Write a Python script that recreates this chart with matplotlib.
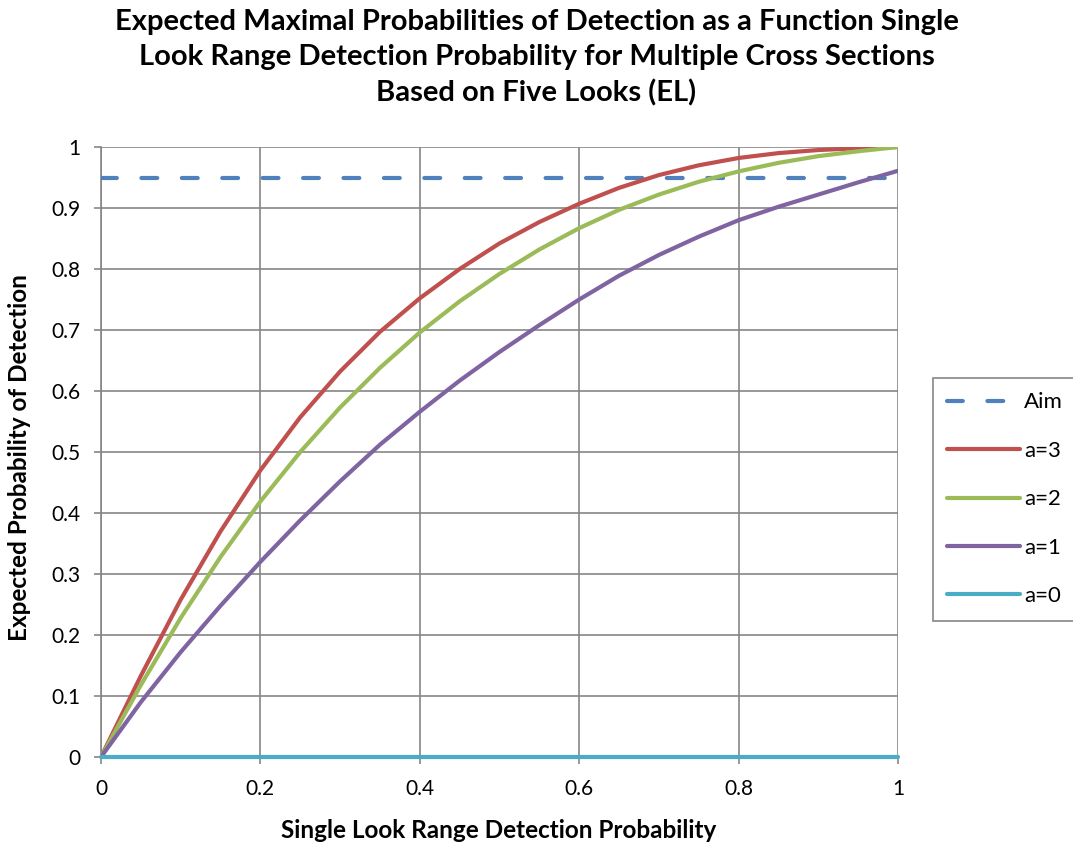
import matplotlib
matplotlib.use("Agg")
import matplotlib.pyplot as plt

# single look range detection probability
p = [0.0, 0.05, 0.1, 0.15, 0.2, 0.25, 0.3, 0.35, 0.4, 0.45, 0.5,
     0.55, 0.6, 0.65, 0.7, 0.75, 0.8, 0.85, 0.9, 0.95, 1.0]

# expected maximal probability of detection
a3 = [0.0, 0.133, 0.258, 0.370, 0.470, 0.557, 0.632, 0.697, 0.752, 0.800, 0.842,
      0.877, 0.907, 0.933, 0.954, 0.970, 0.982, 0.990, 0.995, 0.998, 1.0]
a2 = [0.0, 0.118, 0.228, 0.328, 0.419, 0.500, 0.573, 0.638, 0.696, 0.747, 0.792,
      0.832, 0.867, 0.897, 0.922, 0.943, 0.960, 0.974, 0.985, 0.993, 1.0]
a1 = [0.0, 0.090, 0.172, 0.248, 0.320, 0.388, 0.452, 0.512, 0.566, 0.617, 0.664,
      0.708, 0.750, 0.789, 0.823, 0.853, 0.880, 0.902, 0.922, 0.942, 0.961]
a0 = [0.0] * len(p)
aim = [0.95] * len(p)

ticks_x = [0, 0.2, 0.4, 0.6, 0.8, 1]
ticks_y = [0, 0.1, 0.2, 0.3, 0.4, 0.5, 0.6, 0.7, 0.8, 0.9, 1]

plt.rcParams['font.family'] = ['Lato', 'DejaVu Sans']

fig = plt.figure(figsize=(10.73, 8.48), dpi=100)
ax = fig.add_axes([101/1073, 1-757/848, 797/1073, 610/848])

grid_col = '#868686'
lw = 3

ax.plot(p, aim, color='#4F81BD', lw=lw, dashes=(3.8, 5.9),
        dash_capstyle='round', label='Aim', zorder=3)
ax.plot(p, a3, color='#C0504D', lw=lw, solid_capstyle='round', solid_joinstyle='round',
        label='a=3', zorder=3)
ax.plot(p, a2, color='#9BBB59', lw=lw, solid_capstyle='round', solid_joinstyle='round',
        label='a=2', zorder=3)
ax.plot(p, a1, color='#8064A2', lw=lw, solid_capstyle='round', solid_joinstyle='round',
        label='a=1', zorder=3)
ax.plot(p, a0, color='#4BACC6', lw=lw, solid_capstyle='round', label='a=0', zorder=3,
        clip_on=False)

ax.set_xlim(0, 1)
ax.set_ylim(0, 1)
ax.set_xticks(ticks_x)
ax.set_xticklabels([str(t) for t in ticks_x])
ax.set_yticks(ticks_y)
ax.set_yticklabels([str(t) for t in ticks_y])
ax.grid(True, color=grid_col, lw=1.2)
ax.set_axisbelow(True)
for s in ['top', 'right']:
    ax.spines[s].set_visible(False)
for s in ['left', 'bottom']:
    ax.spines[s].set_color(grid_col)
    ax.spines[s].set_linewidth(1.2)
ax.tick_params(axis='x', length=5, width=1.2, color=grid_col, pad=11, labelsize=15)
ax.tick_params(axis='y', length=5, width=1.2, color=grid_col, pad=10, labelsize=15)

fig.text(0.5, 1-58/848,
         "Expected Maximal Probabilities of Detection as a Function Single\n"
         "Look Range Detection Probability for Multiple Cross Sections\n"
         "Based on Five Looks (EL)",
         ha='center', va='center', fontsize=21, fontweight='bold', linespacing=1.42)
fig.text(499/1073, 1-831/848, "Single Look Range Detection Probability",
         ha='center', va='center', fontsize=17.5, fontweight='bold')
fig.text(20/1073, 1-458/848, "Expected Probability of Detection",
         ha='center', va='center', rotation=90, fontsize=17.5, fontweight='bold')

leg = fig.legend(loc='upper left', bbox_to_anchor=(933/1073, 1-378/848),
                 bbox_transform=fig.transFigure, borderaxespad=0,
                 fontsize=16, handlelength=3.25, handletextpad=0.2,
                 labelspacing=1.28, fancybox=False, framealpha=1,
                 edgecolor=grid_col, borderpad=0.65)
leg.get_frame().set_linewidth(1.2)

fig.savefig('out.png', dpi=100)
